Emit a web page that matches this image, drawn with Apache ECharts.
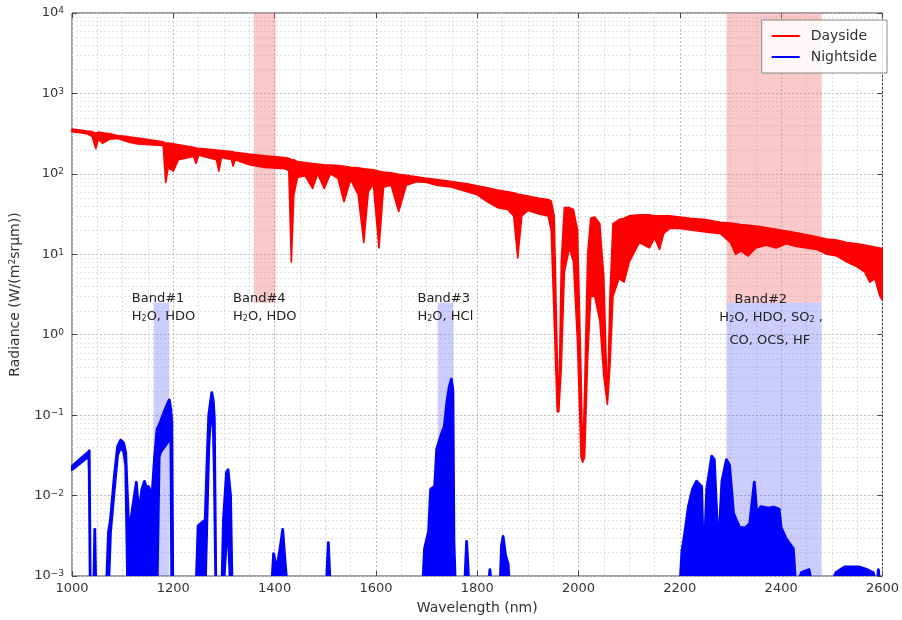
<!DOCTYPE html>
<html><head><meta charset="utf-8">
<script src="https://cdn.jsdelivr.net/npm/echarts@6/dist/echarts.min.js"></script>
<style>html,body{margin:0;padding:0;background:#fff}#c{width:902px;height:620px}</style>
</head><body><div id="c"></div>
<script>
// ---------- data ----------
const xTickValues = [1000,1200,1400,1600,1800,2000,2200,2400,2600];
const yDecades = [-3,-2,-1,0,1,2,3,4];
const minorMultipliers = [2,3,4,5,6,7,8,9];

// Dayside spectrum: wavelength (nm), upper envelope, lower envelope (W/(m2 sr um))
const daysideWl = [1000,1030,1040,1047,1052,1060,1075,1090,1110,1130,1160,1180,1185,1190,1200,1210,1240,1245,1250,1285,1290,1295,1315,1318,1322,1350,1380,1420,1428,1433,1438,1445,1460,1475,1485,1498,1510,1525,1537,1550,1565,1576,1585,1595,1606,1615,1630,1645,1660,1680,1700,1720,1750,1780,1800,1820,1840,1860,1872,1880,1888,1900,1920,1940,1946,1952,1958,1961,1966,1972,1982,1990,1998,2005,2008,2012,2018,2024,2032,2042,2050,2057,2062,2068,2080,2090,2100,2120,2140,2150,2160,2168,2180,2200,2220,2250,2280,2300,2310,2320,2335,2350,2370,2390,2410,2430,2450,2470,2490,2510,2530,2550,2565,2575,2585,2595,2600];
const daysideUpper = [361,340,335,320,330,325,315,300,290,278,262,250,240,242,236,230,214,210,208,198,196,195,190,188,186,176,168,160,156,150,150,142,138,134,132,130,129,127,124,121,119,116,114,112,108,105,103,99,96,92,88,85,80,75,71,67,63,60,58,56,55,53,50,48,46,30,0.5,0.11,8,38,38,36,20,0.3,0.026,0.2,10,28,29,24,5,0.136,3,24,27,28,30,31,31,30,30,30,30,29,28,27,25,24.5,24,23.5,23,22.5,21.5,20.5,19.5,18.5,17.5,16.5,15.5,15,14,13.5,13,12.7,12.3,12,11.7];
const daysideLower = [335,315,290,205,270,240,270,275,250,235,228,225,78,120,108,150,165,135,170,150,108,160,150,125,150,130,120,116,110,8,55,90,95,66,100,66,100,88,45,85,55,14,60,75,12,68,72,34,72,80,78,72,68,60,55,45,38,36,30,9,30,35,32,30,20,1.5,0.11,0.11,0.4,6,12,8,0.8,0.03,0.026,0.03,0.5,3,3,1.5,0.3,0.136,0.4,3,5,4.5,8,14,12,16,11.5,18,21,21,20,19,18,14,10,11,9.5,12,13,12,13.5,12.5,12,11.5,10,9.5,8,7,6,4.5,5,3,2.7];

// Nightside spectrum (values below 1e-3 fall under the axis)
const nightsideWl = [1000,1015,1033,1034,1036,1043,1045,1047,1068,1072,1076,1083,1090,1096,1102,1106,1110,1112,1118,1127,1132,1138,1143,1148,1151,1158,1163,1168,1172,1175,1182,1188,1192,1195,1197,1199,1245,1249,1263,1266,1270,1273,1276,1279,1281,1284,1296,1299,1305,1308,1313,1316,1394,1398,1404,1412,1416,1420,1425,1502,1506,1510,1692,1696,1704,1708,1716,1720,1730,1735,1740,1745,1749,1752,1754,1757,1775,1779,1784,1822,1825,1828,1845,1848,1851,1856,1861,1864,2200,2204,2210,2217,2225,2233,2243,2247,2253,2263,2268,2276,2283,2292,2298,2306,2318,2330,2338,2347,2352,2360,2375,2385,2396,2400,2410,2424,2429,2440,2455,2462,2495,2508,2525,2553,2570,2582,2588,2592,2595,2600];
const nightsideUpper = [0.023,0.028,0.035,0.036,0.0007,0.0007,0.0038,0.0007,0.0007,0.0035,0.005,0.016,0.041,0.049,0.045,0.034,0.008,0.0035,0.006,0.0147,0.006,0.012,0.015,0.012,0.013,0.010,0.03,0.067,0.075,0.084,0.11,0.136,0.155,0.12,0.08,0.0007,0.0007,0.0042,0.005,0.02,0.1,0.14,0.19,0.15,0.089,0.0007,0.0007,0.005,0.0195,0.021,0.01,0.0007,0.0007,0.0019,0.0012,0.0025,0.0038,0.0017,0.0007,0.0007,0.0026,0.0007,0.0007,0.0022,0.0036,0.012,0.013,0.038,0.06,0.072,0.145,0.23,0.28,0.2,0.0027,0.0007,0.0007,0.0027,0.0007,0.0007,0.0012,0.0007,0.0007,0.0024,0.0031,0.0018,0.0014,0.0007,0.0007,0.002,0.0035,0.0074,0.012,0.0151,0.013,0.0011,0.012,0.031,0.028,0.002,0.015,0.028,0.024,0.006,0.004,0.004,0.0045,0.0147,0.006,0.0073,0.007,0.0072,0.0068,0.004,0.0029,0.0022,0.0007,0.0011,0.0012,0.0007,0.0007,0.0011,0.0013,0.0013,0.0012,0.0011,0.0007,0.0012,0.0007,0.0007];
const nightsideLower = [0.021,0.025,0.031,0.02,0.0007,0.0007,0.0007,0.0007,0.0007,0.0007,0.0035,0.011,0.032,0.040,0.035,0.024,0.0007,0.0007,0.0007,0.0007,0.0007,0.0007,0.0007,0.0007,0.0007,0.0007,0.0007,0.0007,0.03,0.035,0.04,0.045,0.05,0.05,0.0007,0.0007,0.0007,0.0007,0.0007,0.004,0.04,0.08,0.12,0.07,0.02,0.0007,0.0007,0.0007,0.003,0.004,0.0007,0.0007,0.0007,0.0007,0.0007,0.0007,0.0007,0.0007,0.0007,0.0007,0.0007,0.0007,0.0007,0.0007,0.0007,0.0007,0.0007,0.0007,0.0007,0.0007,0.0007,0.0007,0.0007,0.0007,0.0007,0.0007,0.0007,0.0007,0.0007,0.0007,0.0007,0.0007,0.0007,0.0007,0.0007,0.0007,0.0007,0.0007,0.0007,0.0007,0.0007,0.0007,0.0007,0.0007,0.0007,0.0007,0.0007,0.0007,0.0007,0.0007,0.0007,0.0007,0.0007,0.0007,0.0007,0.0007,0.0007,0.0007,0.0007,0.0007,0.0007,0.0007,0.0007,0.0007,0.0007,0.0007,0.0007,0.0007,0.0007,0.0007,0.0007,0.0007,0.0007,0.0007,0.0007,0.0007,0.0007,0.0007,0.0007];

// Shaded spectral bands (nm ranges) and split value between day/night shading
const dayBands = [[1359,1402],[2292,2480]];
const nightBands = [[1161,1192],[1722,1753],[2292,2480]];
const bandSplitValue = 2.5;

// Annotations: text, wavelength, radiance anchor
const annotText = ['Band#1','H{sub|2}O, HDO','Band#4','H{sub|2}O, HDO','Band#3','H{sub|2}O, HCl','Band#2','H{sub|2}O, HDO, SO{sub|2} ,','CO, OCS, HF'];
const annotWl = [1118,1118,1318,1318,1682,1682,2308,2278,2298];
const annotVal = [2.8,1.7,2.8,1.7,2.8,1.7,2.75,1.62,0.85];

// ---------- chart ----------
const FONT = 'DejaVu Sans';
const chart = echarts.init(document.getElementById('c'));

function envelopeRenderer(wl, up, lo, color, lw) {
  return function (params, api) {
    if (params.dataIndex !== 0) return null;
    const pts = [];
    for (let i = 0; i < wl.length; i++) pts.push(api.coord([wl[i], up[i]]));
    for (let i = wl.length - 1; i >= 0; i--) pts.push(api.coord([wl[i], lo[i]]));
    return { type: 'polygon', shape: { points: pts },
      style: { fill: color, stroke: color, lineWidth: lw, lineJoin: 'round' } };
  };
}

const axisLabelColor = '#333';
chart.setOption({
  animation: false,
  backgroundColor: '#fff',
  grid: { left: 71, right: 15, top: 13, bottom: 43, show: true, borderColor: '#444', borderWidth: 1, backgroundColor: 'transparent' },
  legend: {
    right: 15, top: 20, orient: 'vertical',
    data: ['Dayside', 'Nightside'],
    icon: 'rect', itemWidth: 28, itemHeight: 2, itemGap: 7,
    backgroundColor: 'rgba(255,255,255,0.85)', borderColor: '#888', borderWidth: 1,
    padding: [9, 10, 9, 10],
    textStyle: { fontFamily: FONT, fontSize: 14, color: '#333', padding: [0, 0, 0, 6] }
  },
  xAxis: [{
    type: 'value', min: 1000, max: 2600, interval: 200,
    name: 'Wavelength (nm)', nameLocation: 'middle', nameGap: 25,
    nameTextStyle: { fontFamily: FONT, fontSize: 14, color: '#333' },
    axisLine: { show: false },
    axisTick: { inside: true, length: 5, lineStyle: { color: '#444' } },
    minorTick: { show: false, splitNumber: 4 },
    axisLabel: { fontFamily: FONT, fontSize: 13, color: axisLabelColor, margin: 6, formatter: v => String(v) },
    splitLine: { show: true, lineStyle: { color: '#bbb', type: [2, 2], width: 1 } },
    minorSplitLine: { show: true, lineStyle: { color: '#dedede', type: [2, 2], width: 1 } }
  }, {
    type: 'value', min: 1000, max: 2600, interval: 200, position: 'top',
    axisLine: { show: false }, axisLabel: { show: false }, splitLine: { show: false },
    axisTick: { inside: true, length: 5, lineStyle: { color: '#444' } }
  }],
  yAxis: [{
    type: 'log', logBase: 10, min: 1e-3, max: 1e4, interval: 1,
    name: 'Radiance (W/(m{sup|2}sr\u03bcm))', nameLocation: 'middle', nameGap: 50,
    nameTextStyle: { fontFamily: FONT, fontSize: 14, color: '#333',
      rich: { sup: { fontSize: 9, fontFamily: FONT, color: '#333', verticalAlign: 'top', lineHeight: 10 } } },
    axisLine: { show: false },
    axisTick: { inside: true, length: 5, lineStyle: { color: '#444' } },
    axisLabel: {
      fontFamily: FONT, fontSize: 13, color: axisLabelColor, margin: 8,
      formatter: v => { const e = Math.round(Math.log10(v)); return '10{sup|' + (e < 0 ? '\u2212' + (-e) : e) + '}'; },
      rich: { sup: { fontSize: 9, fontFamily: FONT, color: axisLabelColor, verticalAlign: 'top', lineHeight: 10, padding: [0, 0, 8, 0] } }
    },
    splitLine: { show: true, lineStyle: { color: '#bbb', type: [2, 2], width: 1 } }
  }, {
    type: 'log', logBase: 10, min: 1e-3, max: 1e4, interval: 1, position: 'right',
    axisLine: { show: false }, axisLabel: { show: false }, splitLine: { show: false },
    axisTick: { inside: true, length: 5, lineStyle: { color: '#444' } }
  }],
  series: [
    { type: 'custom', name: 'minorGrid', z: 0, silent: true, data: [[0]],
      renderItem: function (params, api) {
        const children = [];
        yDecades.slice(0, -1).forEach(d => minorMultipliers.forEach(m => {
          const v = m * Math.pow(10, d);
          const a = api.coord([1000, v]), b = api.coord([2600, v]);
          children.push({ type: 'line', shape: { x1: a[0], y1: Math.round(a[1]) + 0.5, x2: b[0], y2: Math.round(b[1]) + 0.5 },
            style: { stroke: '#e0e0e0', lineWidth: 1, lineDash: [2, 2] } });
        }));
        return { type: 'group', children };
      } },
    { type: 'custom', name: 'bands', z: 1, silent: true, data: [[0]],
      renderItem: function (params, api) {
        const children = [];
        dayBands.forEach(b => {
          const p0 = api.coord([b[0], 1e4]), p1 = api.coord([b[1], bandSplitValue]);
          children.push({ type: 'rect', shape: { x: p0[0], y: p0[1], width: p1[0] - p0[0], height: p1[1] - p0[1] },
            style: { fill: 'rgba(240,110,110,0.38)' } });
        });
        nightBands.forEach(b => {
          const p0 = api.coord([b[0], bandSplitValue]), p1 = api.coord([b[1], 1e-3]);
          children.push({ type: 'rect', shape: { x: p0[0], y: p0[1], width: p1[0] - p0[0], height: p1[1] - p0[1] },
            style: { fill: 'rgba(110,110,250,0.35)' } });
        });
        return { type: 'group', children };
      } },
    { type: 'custom', name: 'Nightside', z: 3, clip: true, data: [[0]], itemStyle: { color: '#0000ff' },
      renderItem: envelopeRenderer(nightsideWl, nightsideUpper, nightsideLower, '#0000ff', 2.8) },
    { type: 'custom', name: 'Dayside', z: 4, clip: true, data: [[0]], itemStyle: { color: '#ff0000' },
      renderItem: envelopeRenderer(daysideWl, daysideUpper, daysideLower, '#ff0000', 1.6) },
    { type: 'custom', name: 'labels', z: 5, silent: true, data: annotText.map((t, i) => [annotWl[i], annotVal[i]]),
      renderItem: function (params, api) {
        const i = params.dataIndex;
        const p = api.coord([annotWl[i], annotVal[i]]);
        return { type: 'text', x: p[0], y: p[1],
          style: { text: annotText[i], fill: '#222', fontFamily: FONT, fontSize: 13, align: 'left', verticalAlign: 'middle',
            rich: { sub: { fontSize: 8, fontFamily: FONT, fill: '#222', verticalAlign: 'bottom', lineHeight: 8, padding: [6, 0, 0, 0] } } } };
      } }
  ]
});
</script></body></html>
